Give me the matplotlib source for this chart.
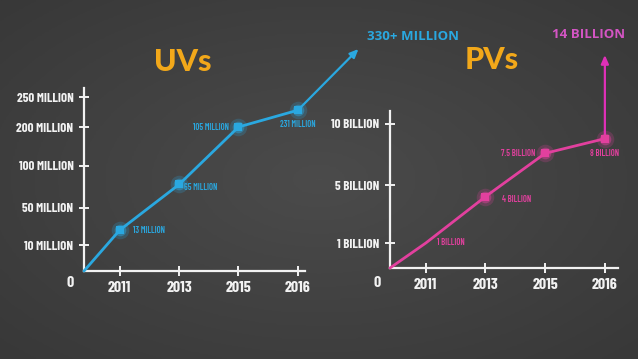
import numpy as np
import matplotlib
matplotlib.use("Agg")
import matplotlib.pyplot as plt

# ---------------- data ----------------
years = ["2011", "2013", "2015", "2016"]

uv_values = [26, 78, 200, 228]          # position read on the UV axis (millions)
uv_labels = ["13 MILLION", "65 MILLION", "105 MILLION", "231 MILLION"]
uv_ticks = [10, 50, 100, 200, 250]
uv_tick_labels = ["10 MILLION", "50 MILLION", "100 MILLION", "200 MILLION", "250 MILLION"]
uv_target = 330
uv_target_label = "330+ MILLION"

pv_values = [1.0, 4.2, 7.6, 8.8]        # position read on the PV axis (billions)
pv_labels = ["1 BILLION", "4 BILLION", "7.5 BILLION", "8 BILLION"]
pv_ticks = [1, 5, 10]
pv_tick_labels = ["1 BILLION", "5 BILLION", "10 BILLION"]
pv_target = 14
pv_target_label = "14 BILLION"

# ---------------- style ----------------
W, H = 638, 359
BG = "#454545"
BLUE = "#2aa8e0"
PINK = "#e2409e"
PINK_TXT = "#d455c4"
ORANGE = "#f2a81a"
WHITE = "#f2f2f2"
NARROW = ["Barlow Condensed", "DejaVu Sans"]
TITLE_FONT = ["Lato", "DejaVu Sans"]
ORIGIN_X = -0.6

fig = plt.figure(figsize=(W / 100, H / 100), dpi=100)
fig.patch.set_facecolor(BG)

# subtle vignette background
bg_ax = fig.add_axes([0, 0, 1, 1], zorder=-10)
yy, xx = np.mgrid[-1:1:200j, -1:1:300j]
r = np.sqrt(xx ** 2 + yy ** 2)
bg_ax.imshow(-r, cmap=matplotlib.colors.LinearSegmentedColormap.from_list(
    "bg", ["#383838", "#4b4b4b"]), aspect="auto", extent=[0, 1, 0, 1])
bg_ax.axis("off")


def px_axes(x0, y_base, x1, y_top):
    return fig.add_axes([x0 / W, 1 - y_base / H, (x1 - x0) / W, (y_base - y_top) / H])


def make_scale(vals, pos):
    vals = np.asarray(vals, float)
    pos = np.asarray(pos, float)
    fwd = lambda v: np.interp(v, vals, pos, left=pos[0], right=pos[-1])
    inv = lambda p: np.interp(p, pos, vals, left=vals[0], right=vals[-1])
    return fwd, inv


def draw_panel(ax, values, labels, ticks, tick_labels, knots_v, knots_p, top_px,
               color, label_offsets, marker_from, xmax):
    fwd, inv = make_scale(knots_v, knots_p)
    ax.set_yscale("function", functions=(fwd, inv))
    ax.set_facecolor("none")
    x = np.arange(len(years))
    ax.set_xlim(ORIGIN_X, xmax)
    ax.set_ylim(0, inv(top_px))
    for s in ["top", "right"]:
        ax.spines[s].set_visible(False)
    for s in ["left", "bottom"]:
        ax.spines[s].set_color(WHITE)
        ax.spines[s].set_linewidth(1.6)
    ax.set_xticks(x)
    ax.set_xticklabels(years, family=NARROW, fontsize=11.5, fontweight=700, color=WHITE)
    ax.set_yticks(ticks)
    ax.set_yticklabels(tick_labels, family=NARROW, fontsize=9.3, fontweight=700, color=WHITE)
    ax.yaxis.set_minor_locator(matplotlib.ticker.NullLocator())
    ax.tick_params(axis="both", direction="inout", length=7, width=1.4, color=WHITE)
    ax.tick_params(axis="y", pad=4)
    ax.tick_params(axis="x", pad=4)

    xs = np.r_[ORIGIN_X, x]
    ys = np.r_[0, values]
    ax.plot(xs, ys, color=color, lw=2.0, solid_capstyle="round", clip_on=False, zorder=3)
    mx, my = x[marker_from:], np.asarray(values)[marker_from:]
    ax.scatter(mx, my, s=160, color=color, alpha=0.22, lw=0, clip_on=False, zorder=4)
    ax.scatter(mx, my, s=70, color=color, alpha=0.45, lw=0, clip_on=False, zorder=4)
    ax.scatter(mx, my, s=26, color=color, marker="s", lw=0, clip_on=False, zorder=5)
    for xi, yi, lab, (dx, dy, ha) in zip(x, values, labels, label_offsets):
        ax.annotate(lab, (xi, yi), xytext=(dx, dy), textcoords="offset points",
                    ha=ha, va="center", fontsize=6.2, color=color, family=NARROW,
                    fontweight=600)


# ---------- UV panel ----------
ax1 = px_axes(84, 271, 305, 88)
draw_panel(ax1, uv_values, uv_labels, uv_ticks, uv_tick_labels,
           [0, 10, 50, 100, 200, 250, 300, 400], [0, 26, 63, 105, 144, 174, 204, 264],
           183, BLUE,
           [(9.5, -0.5, "left"), (3.5, -2, "left"), (-7, 0, "right"), (0, -10.5, "center")],
           0, 3.12)
ax1.annotate("", xy=(4.02, uv_target), xytext=(3, uv_values[-1]),
             arrowprops=dict(arrowstyle="-|>,head_length=0.5,head_width=0.22",
                             color=BLUE, lw=1.6, shrinkA=0, shrinkB=0),
             annotation_clip=False, zorder=3)
fig.text(413 / W, 1 - 36 / H, uv_target_label, ha="center", va="center",
         fontsize=9.5, fontweight="bold", color=BLUE, family=["Open Sans", "DejaVu Sans"])
ax1.text(-0.063, -0.066, "0", transform=ax1.transAxes, ha="center", va="center",
         fontsize=11.5, fontweight=700, color=WHITE, family=NARROW)
fig.text(183 / W, 1 - 62 / H, "UVs", ha="center", va="center", fontsize=22,
         fontweight="black", color=ORANGE, family=TITLE_FONT)

# ---------- PV panel ----------
ax2 = px_axes(390, 268, 618, 111)
draw_panel(ax2, pv_values, pv_labels, pv_ticks, pv_tick_labels,
           [0, 1, 5, 10, 14, 20], [0, 25, 83, 144, 213, 300],
           157, PINK,
           [(8, 0.5, "left"), (12, -2, "left"), (-7, 0, "right"), (0, -10.5, "center")],
           1, 3.22)
ax2.annotate("", xy=(3, pv_target), xytext=(3, pv_values[-1]),
             arrowprops=dict(arrowstyle="-|>,head_length=0.5,head_width=0.22",
                             color="#e030b8", lw=1.6, shrinkA=0, shrinkB=0),
             annotation_clip=False, zorder=3)
fig.text(589 / W, 1 - 35 / H, pv_target_label, ha="center", va="center",
         fontsize=9.5, fontweight="bold", color=PINK_TXT, family=["Open Sans", "DejaVu Sans"])
ax2.text(-0.057, -0.096, "0", transform=ax2.transAxes, ha="center", va="center",
         fontsize=11.5, fontweight=700, color=WHITE, family=NARROW)
fig.text(492 / W, 1 - 60 / H, "PVs", ha="center", va="center", fontsize=22,
         fontweight="black", color=ORANGE, family=TITLE_FONT)

fig.savefig("out.png", dpi=100, facecolor=fig.get_facecolor())
